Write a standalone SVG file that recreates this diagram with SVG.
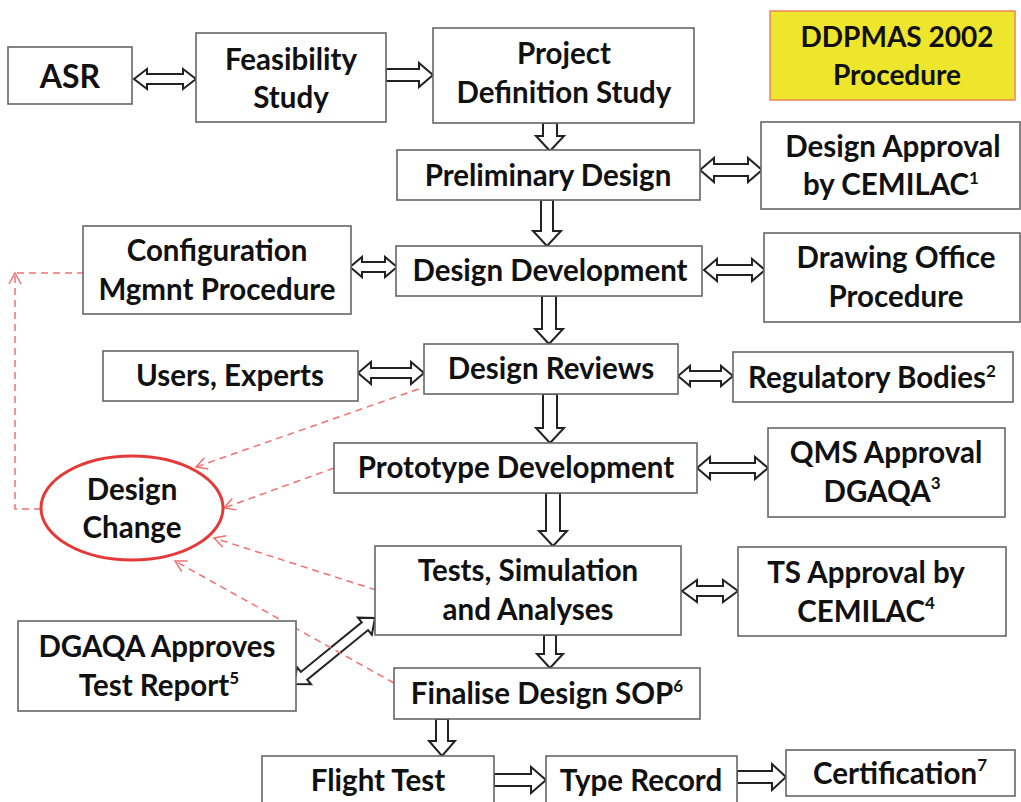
<svg xmlns="http://www.w3.org/2000/svg" width="1021" height="802" viewBox="0 0 1021 802">
<style>
.box{fill:#fff;stroke:#666;stroke-width:1.6}
.t{font-family:Lato,"Liberation Sans",sans-serif;font-weight:bold;font-size:29.5px;fill:#111;text-anchor:middle}
.sup{font-size:17px}
.arr{fill:#fff;stroke:#222;stroke-width:2;stroke-linejoin:miter}
.dash{fill:none;stroke:#f27070;stroke-width:1.5;stroke-dasharray:7 5}
</style>
<defs>
<marker id="oa" markerWidth="14" markerHeight="14" refX="12" refY="7" orient="auto" markerUnits="userSpaceOnUse">
<path d="M1,1 L12,7 L1,13" fill="none" stroke="#f27070" stroke-width="1.5"/>
</marker>
</defs>
<rect width="1021" height="802" fill="#fff"/>

<g id="connectors">
<g id="block-arrows">
<!-- ASR <-> Feasibility -->
<polygon class="arr" points="134,79 147,69 147,74 183,74 183,69 196,79 183,89 183,84 147,84 147,89"/>
<!-- Feasibility -> Project -->
<polygon class="arr" points="386,69 419,69 419,63 433,75 419,87 419,81 386,81"/>
<!-- down arrows -->
<polygon class="arr" points="543,123 557,123 557,136 564,136 550,151 536,136 543,136"/>
<polygon class="arr" points="541,200 553,200 553,231 561,231 547,246 533,231 541,231"/>
<polygon class="arr" points="542,296 556,296 556,329 563,329 549,344 535,329 542,329"/>
<polygon class="arr" points="543,394 557,394 557,428 564,428 550,443 536,428 543,428"/>
<polygon class="arr" points="546,493 560,493 560,531 567,531 553,546 539,531 546,531"/>
<polygon class="arr" points="544,635 556,635 556,654 563,654 550,668 537,654 544,654"/>
<polygon class="arr" points="436,719 448,719 448,741 455,741 442,756 429,741 436,741"/>
<!-- Flight -> Type -->
<polygon class="arr" points="494,774 531,774 531,767 546,780 531,793 531,786 494,786"/>
<!-- Type -> Cert -->
<polygon class="arr" points="737,771 772,771 772,764 786,777 772,790 772,783 737,783"/>
<!-- Prelim <-> Design Approval -->
<polygon class="arr" points="700,170 714,158 714,164 748,164 748,158 762,170 748,182 748,176 714,176 714,182"/>
<!-- Config <-> Design Dev -->
<polygon class="arr" points="350,267 362,257 362,262 385,262 385,257 397,267 385,277 385,272 362,272 362,277"/>
<!-- DD <-> Drawing Office -->
<polygon class="arr" points="704,270 717,259 717,265 752,265 752,259 765,270 752,281 752,275 717,275 717,281"/>
<!-- Users <-> DR -->
<polygon class="arr" points="358,373 371,362 371,368 411,368 411,362 424,373 411,384 411,378 371,378 371,384"/>
<!-- DR <-> Regulatory -->
<polygon class="arr" points="678,376 690,366 690,371 721,371 721,366 733,376 721,386 721,381 690,381 690,386"/>
<!-- Proto <-> QMS -->
<polygon class="arr" points="697,468 710,457 710,463 755,463 755,457 768,468 755,479 755,473 710,473 710,479"/>
<!-- Tests <-> TS -->
<polygon class="arr" points="682,591 697,580 697,586 723,586 723,580 738,591 723,602 723,596 697,596 697,602"/>
<!-- Tests <-> DGAQA diagonal -->
<polygon class="arr" transform="translate(294,684) rotate(-39.2)" points="0,0 13,-11 13,-5 91.5,-5 91.5,-11 104.5,0 91.5,11 91.5,5 13,5 13,11"/>
</g>
<g id="dashed-links">
<path class="dash" d="M430,385 L196,467" marker-end="url(#oa)"/>
<path class="dash" d="M334,468 L224,508" marker-end="url(#oa)"/>
<path class="dash" d="M376,590 L214,538" marker-end="url(#oa)"/>
<path class="dash" d="M394,683 L175,561" marker-end="url(#oa)"/>
<path class="dash" d="M41,509 H15 V273 H83"/>
<polyline points="9,284 15,273 21,284" fill="none" stroke="#f27070" stroke-width="1.5"/>
</g>
</g>

<g id="asr"><rect class="box" x="8" y="47" width="124" height="57"/><text class="t" x="70" y="88" style="font-size:32px">ASR</text></g>
<g id="feasibility"><rect class="box" x="196" y="33" width="190" height="89"/><text class="t" x="291" y="70">Feasibility</text><text class="t" x="291" y="108">Study</text></g>
<g id="project-definition"><rect class="box" x="433" y="28" width="261" height="95"/><text class="t" x="564" y="64">Project</text><text class="t" x="564" y="103">Definition Study</text></g>
<g id="ddpmas"><rect x="770" y="11" width="245" height="89" fill="#eee62c" stroke="#f08a5a" stroke-width="1.6"/><text class="t" x="897" y="47" style="font-size:28px">DDPMAS 2002</text><text class="t" x="897" y="85" style="font-size:28px">Procedure</text></g>
<g id="preliminary-design"><rect class="box" x="397" y="150" width="303" height="50"/><text class="t" x="548" y="186">Preliminary Design</text></g>
<g id="design-approval"><rect class="box" x="761" y="122" width="259" height="87"/><text class="t" x="893" y="157">Design Approval</text><text class="t" x="891" y="195">by CEMILAC<tspan class="sup" dy="-11">1</tspan></text></g>
<g id="design-development"><rect class="box" x="396" y="246" width="306" height="50"/><text class="t" x="550" y="281">Design Development</text></g>
<g id="configuration"><rect class="box" x="83" y="226" width="268" height="88"/><text class="t" x="217" y="261">Configuration</text><text class="t" x="217" y="300">Mgmnt Procedure</text></g>
<g id="drawing-office"><rect class="box" x="764" y="233" width="256" height="89"/><text class="t" x="896" y="268">Drawing Office</text><text class="t" x="896" y="307">Procedure</text></g>
<g id="users-experts"><rect class="box" x="103" y="351" width="255" height="50"/><text class="t" x="230" y="386">Users, Experts</text></g>
<g id="design-reviews"><rect class="box" x="424" y="344" width="254" height="50"/><text class="t" x="551" y="379">Design Reviews</text></g>
<g id="regulatory-bodies"><rect class="box" x="733" y="352" width="280" height="50"/><text class="t" x="872" y="388">Regulatory Bodies<tspan class="sup" dy="-11">2</tspan></text></g>
<g id="prototype-development"><rect class="box" x="334" y="443" width="363" height="50"/><text class="t" x="516" y="478">Prototype Development</text></g>
<g id="qms-approval"><rect class="box" x="768" y="428" width="237" height="89"/><text class="t" x="886" y="463">QMS Approval</text><text class="t" x="882" y="502">DGAQA<tspan class="sup" dy="-13">3</tspan></text></g>
<g id="design-change"><ellipse cx="132" cy="508" rx="91" ry="52" fill="#fff" stroke="#e53a3a" stroke-width="3"/><text class="t" x="132" y="500">Design</text><text class="t" x="132" y="538">Change</text></g>
<g id="tests"><rect class="box" x="375" y="546" width="306" height="89"/><text class="t" x="528" y="581">Tests, Simulation</text><text class="t" x="528" y="620">and Analyses</text></g>
<g id="ts-approval"><rect class="box" x="738" y="547" width="268" height="89"/><text class="t" x="866" y="583">TS Approval by</text><text class="t" x="866" y="622">CEMILAC<tspan class="sup" dy="-13">4</tspan></text></g>
<g id="dgaqa-approves"><rect class="box" x="18" y="621" width="278" height="90"/><text class="t" x="157" y="657">DGAQA Approves</text><text class="t" x="159" y="696">Test Report<tspan class="sup" dy="-12">5</tspan></text></g>
<g id="finalise-design"><rect class="box" x="394" y="668" width="306" height="51"/><text class="t" x="547" y="704">Finalise Design SOP<tspan class="sup" dy="-12">6</tspan></text></g>
<g id="flight-test"><rect class="box" x="262" y="756" width="232" height="50"/><text class="t" x="378" y="791">Flight Test</text></g>
<g id="type-record"><rect class="box" x="546" y="756" width="191" height="50"/><text class="t" x="641" y="791">Type Record</text></g>
<g id="certification"><rect class="box" x="786" y="750" width="229" height="46"/><text class="t" x="900" y="784">Certification<tspan class="sup" dy="-13">7</tspan></text></g>
</svg>
